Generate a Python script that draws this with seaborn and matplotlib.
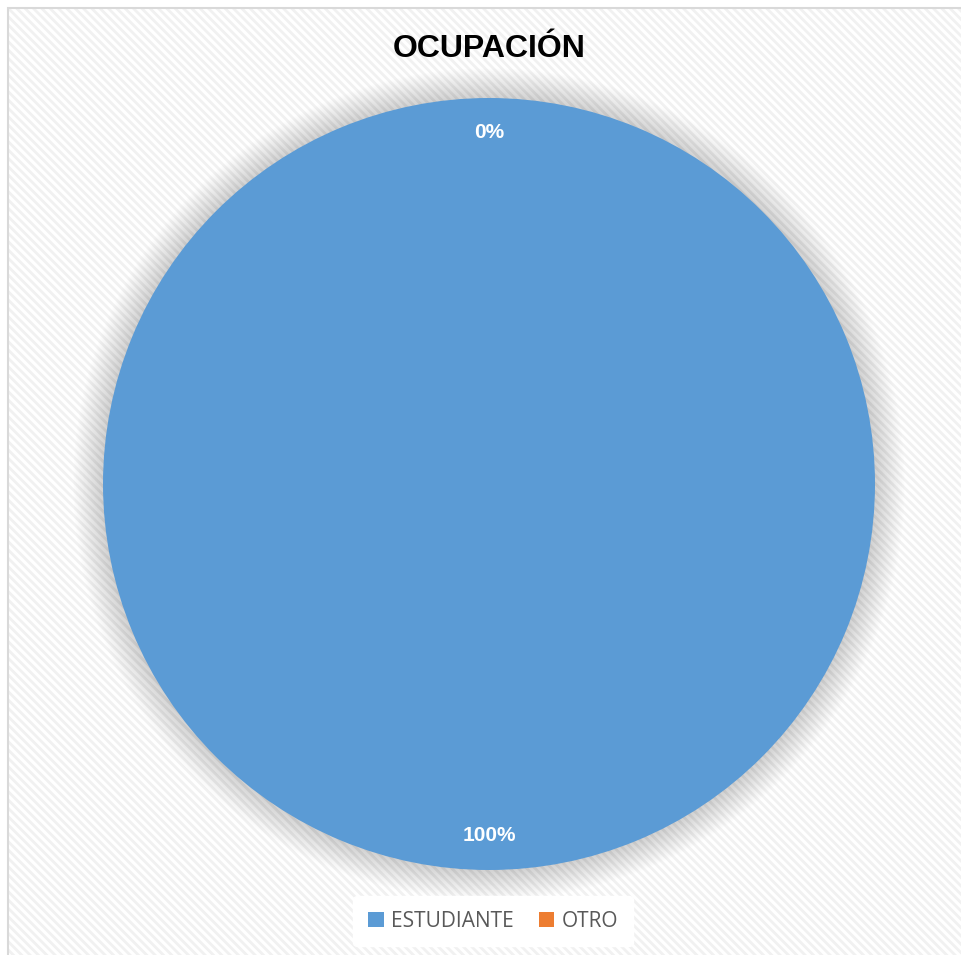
import matplotlib.pyplot as plt
import seaborn as sns
from matplotlib.patches import Rectangle, Circle

# datos
categorias = ['ESTUDIANTE', 'OTRO']
valores = [100, 0]
colores = ['#5B9BD5', '#ED7D31']
titulo = 'OCUPACIÓN'

sns.set_theme(style='white')
plt.rcParams['font.family'] = ['Liberation Sans', 'DejaVu Sans']
plt.rcParams['hatch.linewidth'] = 2.0
paleta = sns.color_palette(colores)

fig = plt.figure(figsize=(9.61, 9.55), dpi=100)
fig.patch.set_facecolor('white')

# fondo con trama diagonal y borde
fondo = Rectangle((8 / 961, -0.01), 1.0, 1 - 8 / 955 + 0.01, transform=fig.transFigure,
                  facecolor='white', edgecolor='#f1f1f1', hatch='\\\\\\\\', linewidth=0, zorder=-2)
fig.patches.append(fondo)
borde = Rectangle((8 / 961, -0.01), 1.0, 1 - 8 / 955 + 0.01, transform=fig.transFigure,
                  facecolor='none', edgecolor='#d9d9d9', linewidth=1.5, zorder=-1)
fig.patches.append(borde)

# ejes del pastel
cx, cy, r, half = 489, 484, 386, 420
ax = fig.add_axes([(cx - half) / 961, (955 - cy - half) / 955, 2 * half / 961, 2 * half / 955])
ax.set_zorder(2)
ax.axis('off')
ax.patch.set_alpha(0)

# sombra suave
for k in range(22, 0, -1):
    ax.add_patch(Circle((0, 0), 1 + k * 0.0035, color='#000000', alpha=0.009, lw=0, zorder=1))

wedges, textos, autotextos = ax.pie(
    valores, colors=paleta, startangle=90, counterclock=False,
    autopct='%1.0f%%', pctdistance=0.91, radius=1,
    wedgeprops=dict(linewidth=0, zorder=2),
    textprops=dict(color='white', fontsize=15, fontweight='bold'))
for t in autotextos:
    t.set_zorder(5)
ax.set_xlim(-half / r, half / r)
ax.set_ylim(-half / r, half / r)
ax.set_aspect('equal')

fig.text(489 / 961, 1 - 49 / 955, titulo, ha='center', va='center',
         fontsize=23, fontweight='bold', color='black', zorder=3)

leg = fig.legend(wedges, categorias, loc='center', bbox_to_anchor=(493 / 961, 34 / 955),
                 ncol=2, frameon=True, handlelength=0.75, handleheight=0.75,
                 handletextpad=0.35, columnspacing=1.2, borderpad=0.7,
                 prop=dict(family=['Open Sans', 'DejaVu Sans'], size=15))
leg.get_frame().set_facecolor('white')
leg.get_frame().set_edgecolor('white')
leg.get_frame().set_alpha(1)
leg.set_zorder(3)
for t in leg.get_texts():
    t.set_color('#595959')

fig.savefig('out.png', dpi=100)
